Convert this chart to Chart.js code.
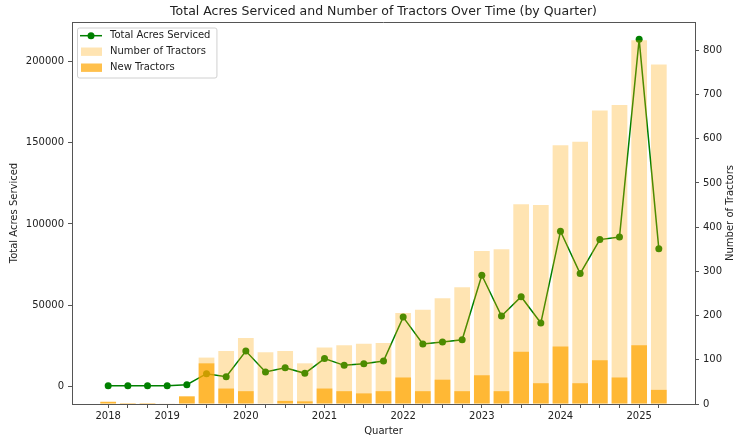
<!DOCTYPE html>
<html lang="en">
<head>
    <meta charset="UTF-8">
    <title>Total Acres Serviced and Number of Tractors Over Time</title>
    <script src="https://cdn.jsdelivr.net/npm/chart.js"></script>
    <style>
        body, html {
            margin: 0;
            padding: 0;
            background: #fff;
            overflow: hidden;
        }
        #wrap {
            width: 736px;
            height: 437px;
        }
    </style>
</head>
<body>
    <div id="wrap"><canvas id="acresChart"></canvas></div>

    <script>
        const quarters = [
            '2018-Q2', '2018-Q3', '2018-Q4',
            '2019-Q1', '2019-Q2', '2019-Q3', '2019-Q4',
            '2020-Q1', '2020-Q2', '2020-Q3', '2020-Q4',
            '2021-Q1', '2021-Q2', '2021-Q3', '2021-Q4',
            '2022-Q1', '2022-Q2', '2022-Q3', '2022-Q4',
            '2023-Q1', '2023-Q2', '2023-Q3', '2023-Q4',
            '2024-Q1', '2024-Q2', '2024-Q3', '2024-Q4',
            '2025-Q1', '2025-Q2'
        ];
        // only the first quarter of each year (and the very first bar) gets a label
        const tickLabels = quarters.map((q, i) => (i === 0 || q.endsWith('Q1')) ? q.slice(0, 4) : '');

        const totalAcres = [
            500, 500, 500, 600, 1200, 8000, 6100, 21900, 9000, 11650,
            8200, 17300, 13100, 14100, 15750, 42750, 26200, 27400, 28800, 68500,
            43400, 55300, 39100, 95500, 69500, 90400, 92000, 213500, 84850
        ];
        const numTractors = [
            5, 2, 2, 1, 18, 105, 120, 149, 117, 120,
            92, 128, 133, 136, 138, 206, 213, 239, 264, 346,
            350, 452, 450, 585, 593, 664, 676, 823, 768
        ];
        const newTractors = [
            5, 2, 2, 1, 17, 92, 35, 29, 1, 7,
            6, 35, 29, 24, 29, 60, 29, 55, 29, 65,
            29, 118, 47, 130, 47, 99, 60, 133, 32
        ];

        const acresTicks = [0, 50000, 100000, 150000, 200000];
        const tractorTicks = [0, 100, 200, 300, 400, 500, 600, 700, 800];

        const titleText = 'Total Acres Serviced and Number of Tractors Over Time (by Quarter)';
        const rightTitle = 'Number of Tractors';
        const spineColor = '#555';
        const textColor = '#222';

        Chart.defaults.font.family = '"DejaVu Sans", sans-serif';
        Chart.defaults.font.size = 10;
        Chart.defaults.color = textColor;

        const toPoints = arr => arr.map((v, i) => ({ x: i, y: v }));

        // title over the plot area, top spine, right axis title and an inset legend
        const frameAndLegend = {
            id: 'frameAndLegend',
            afterDraw(chart) {
                const { ctx, chartArea: ca } = chart;
                ctx.save();

                ctx.fillStyle = textColor;
                ctx.font = '12.5px "DejaVu Sans", sans-serif';
                ctx.textAlign = 'center';
                ctx.textBaseline = 'middle';
                ctx.fillText(titleText, (ca.left + ca.right) / 2, 11.5);

                ctx.font = '10px "DejaVu Sans", sans-serif';
                ctx.save();
                ctx.translate(chart.width - 5.5, (ca.top + ca.bottom) / 2);
                ctx.rotate(-Math.PI / 2);
                ctx.fillText(rightTitle, 0, 0);
                ctx.restore();

                ctx.strokeStyle = spineColor;
                ctx.lineWidth = 1;
                ctx.beginPath();
                ctx.moveTo(ca.left, ca.top + 0.5);
                ctx.lineTo(ca.right, ca.top + 0.5);
                ctx.stroke();

                ctx.textAlign = 'left';
                const items = chart.data.datasets;
                const textW = Math.max(...items.map(d => ctx.measureText(d.label).width));
                const bx = ca.left + 5, by = ca.top + 5.5;
                const bw = 33 + textW + 6, bh = 50;
                ctx.fillStyle = 'rgba(255,255,255,0.8)';
                ctx.strokeStyle = '#d0d0d0';
                ctx.beginPath();
                ctx.roundRect(bx + 0.5, by + 0.5, bw, bh, 2);
                ctx.fill();
                ctx.stroke();

                items.forEach((d, i) => {
                    const cy = by + 8.2 + i * 16;
                    if (d.type === 'line') {
                        ctx.strokeStyle = d.borderColor;
                        ctx.lineWidth = d.borderWidth;
                        ctx.beginPath();
                        ctx.moveTo(bx + 3, cy);
                        ctx.lineTo(bx + 25, cy);
                        ctx.stroke();
                        ctx.fillStyle = d.pointBackgroundColor;
                        ctx.beginPath();
                        ctx.arc(bx + 14, cy, d.pointRadius, 0, Math.PI * 2);
                        ctx.fill();
                    } else {
                        ctx.fillStyle = d.backgroundColor;
                        ctx.fillRect(bx + 4, cy - 4.2, 21, 8.4);
                    }
                    ctx.fillStyle = textColor;
                    ctx.fillText(d.label, bx + 33, cy);
                });

                ctx.restore();
            }
        };

        const axisGrid = {
            drawOnChartArea: false,
            drawTicks: true,
            tickLength: 4,
            tickColor: spineColor,
            tickWidth: 1
        };
        const axisBorder = { display: true, color: spineColor, width: 1 };

        new Chart(document.getElementById('acresChart').getContext('2d'), {
            type: 'bar',
            data: {
                datasets: [
                    {
                        type: 'line',
                        label: 'Total Acres Serviced',
                        data: toPoints(totalAcres),
                        yAxisID: 'y',
                        borderColor: 'green',
                        backgroundColor: 'green',
                        pointBackgroundColor: 'green',
                        pointBorderColor: 'green',
                        pointBorderWidth: 0,
                        pointRadius: 3.5,
                        borderWidth: 1.5,
                        tension: 0,
                        order: 3
                    },
                    {
                        label: 'Number of Tractors',
                        data: toPoints(numTractors),
                        yAxisID: 'y1',
                        backgroundColor: 'rgba(255, 165, 0, 0.3)',
                        grouped: false,
                        barPercentage: 0.8,
                        categoryPercentage: 1,
                        order: 2
                    },
                    {
                        label: 'New Tractors',
                        data: toPoints(newTractors),
                        yAxisID: 'y1',
                        backgroundColor: 'rgba(255, 165, 0, 0.7)',
                        grouped: false,
                        barPercentage: 0.8,
                        categoryPercentage: 1,
                        order: 1
                    }
                ]
            },
            options: {
                responsive: true,
                maintainAspectRatio: false,
                animation: false,
                layout: { padding: { top: 22, left: 0, right: 0, bottom: 0 } },
                plugins: {
                    legend: { display: false },
                    title: { display: false },
                    tooltip: { enabled: false }
                },
                scales: {
                    x: {
                        type: 'linear',
                        offset: false,
                        min: -1.84,
                        max: 29.84,
                        grid: { ...axisGrid, offset: false },
                        border: axisBorder,
                        afterBuildTicks: s => { s.ticks = quarters.map((_, i) => ({ value: i })); },
                        afterFit: s => { s.height = 33; },
                        ticks: {
                            autoSkip: false,
                            maxRotation: 0,
                            padding: 2,
                            color: textColor,
                            callback: v => tickLabels[v] ?? ''
                        },
                        title: {
                            display: true,
                            text: 'Quarter',
                            color: textColor,
                            padding: { top: 0, bottom: 0 }
                        }
                    },
                    y: {
                        position: 'left',
                        min: -10650,
                        max: 224150,
                        grid: axisGrid,
                        border: axisBorder,
                        afterBuildTicks: s => { s.ticks = acresTicks.map(v => ({ value: v })); },
                        afterFit: s => { s.width = 72; },
                        ticks: {
                            padding: 4,
                            color: textColor,
                            callback: v => String(v)
                        },
                        title: {
                            display: true,
                            text: 'Total Acres Serviced',
                            color: textColor,
                            padding: { top: 8, bottom: 0 }
                        }
                    },
                    y1: {
                        position: 'right',
                        min: 0,
                        max: 864,
                        grid: axisGrid,
                        border: axisBorder,
                        afterBuildTicks: s => { s.ticks = tractorTicks.map(v => ({ value: v })); },
                        afterFit: s => { s.width = 41; },
                        ticks: {
                            padding: 4,
                            color: textColor,
                            callback: v => String(v)
                        },
                        title: { display: false }
                    }
                }
            },
            plugins: [frameAndLegend]
        });
    </script>
</body>
</html>
